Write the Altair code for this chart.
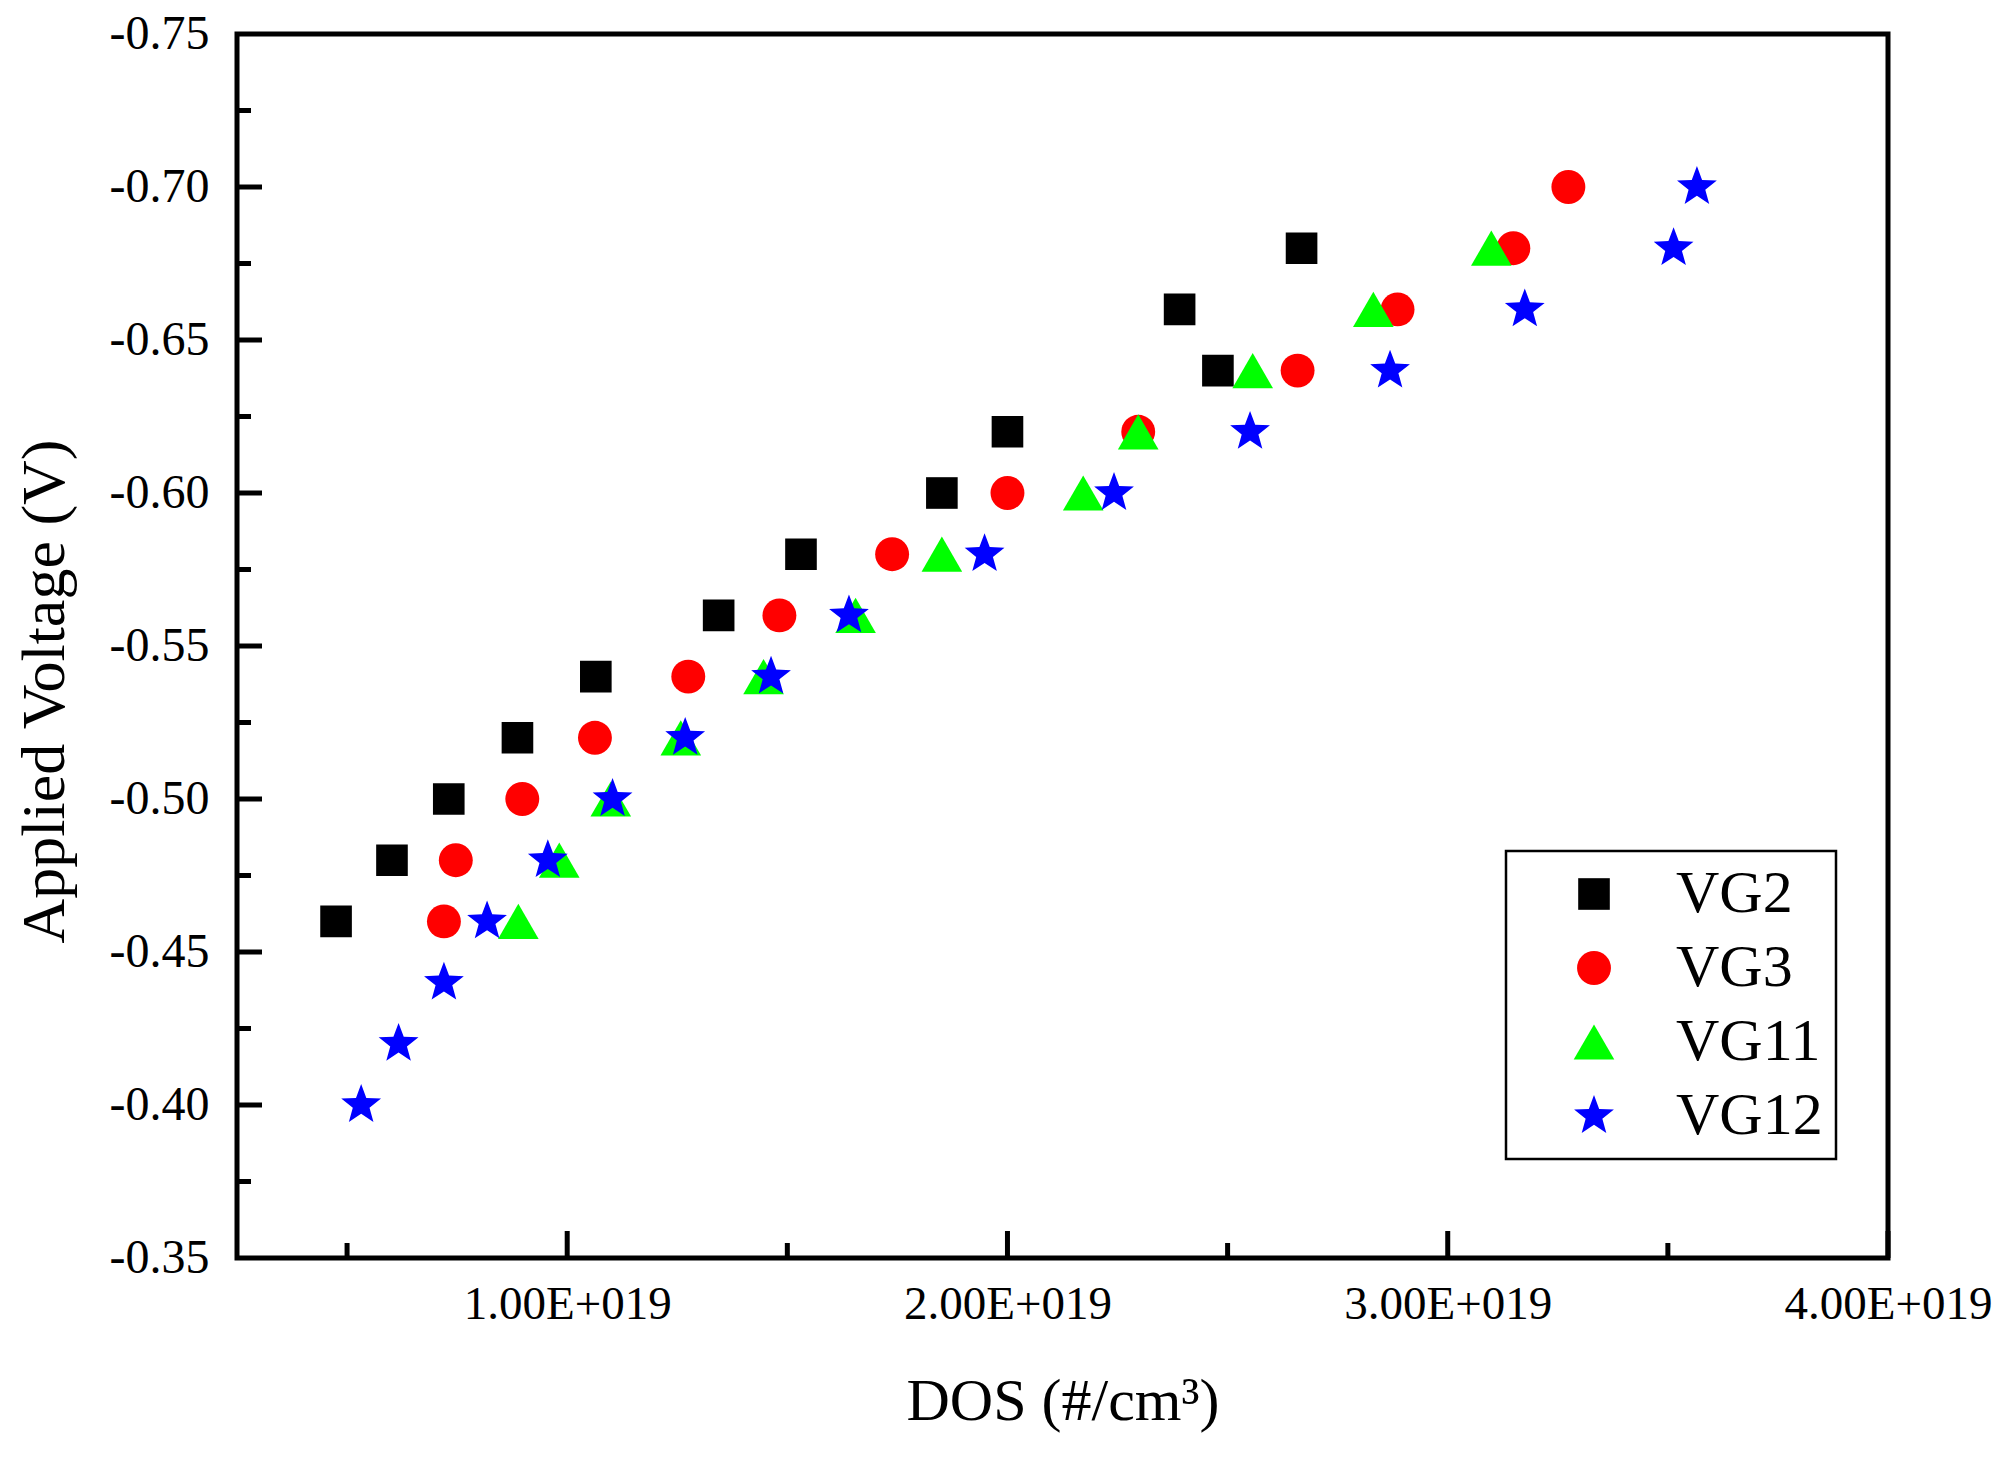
import altair as alt
import pandas as pd

# ---------------- data (DOS in units of 1E+019 #/cm^3, voltage in V) ----------------
series_names = ["VG2", "VG3", "VG11", "VG12"]

vg2_dos = [0.475, 0.602, 0.731, 0.887, 1.065, 1.344, 1.531, 1.851, 2.000, 2.478, 2.391, 2.668]
vg2_v = [-0.46, -0.48, -0.50, -0.52, -0.54, -0.56, -0.58, -0.60, -0.62, -0.64, -0.66, -0.68]

vg3_dos = [0.720, 0.747, 0.898, 1.063, 1.275, 1.482, 1.738, 2.000, 2.297, 2.659, 2.886, 3.149, 3.274]
vg3_v = [-0.46, -0.48, -0.50, -0.52, -0.54, -0.56, -0.58, -0.60, -0.62, -0.64, -0.66, -0.68, -0.70]

vg11_dos = [0.889, 0.982, 1.099, 1.258, 1.446, 1.655, 1.851, 2.172, 2.297, 2.557, 2.831, 3.099]
vg11_v = [-0.46, -0.48, -0.50, -0.52, -0.54, -0.56, -0.58, -0.60, -0.62, -0.64, -0.66, -0.68]

vg12_dos = [0.532, 0.617, 0.720, 0.818, 0.956, 1.103, 1.268, 1.463, 1.640, 1.948, 2.242, 2.551,
            2.869, 3.175, 3.513, 3.566]
vg12_v = [-0.40, -0.42, -0.44, -0.46, -0.48, -0.50, -0.52, -0.54, -0.56, -0.58, -0.60, -0.62,
          -0.64, -0.66, -0.68, -0.70]

x_major = [1.0, 2.0, 3.0, 4.0]
x_minor = [0.5, 1.5, 2.5, 3.5]
y_labels = [-0.75, -0.70, -0.65, -0.60, -0.55, -0.50, -0.45, -0.40, -0.35]
y_major = [-0.70, -0.65, -0.60, -0.55, -0.50, -0.45, -0.40]
y_minor = [-0.725, -0.675, -0.625, -0.575, -0.525, -0.475, -0.425, -0.375]

# ---------------- styling ----------------
FONT = "Liberation Serif"
W, H = 1651, 1224
colors = ["#000000", "#ff0000", "#00ff00", "#0000ff"]
star_path = ("M0,-1L0.2469,-0.3398L0.9511,-0.309L0.3995,0.1298L0.5878,0.809L0,0.42"
             "L-0.5878,0.809L-0.3995,0.1298L-0.9511,-0.309L-0.2469,-0.3398Z")
shapes = ["square", "circle", "triangle-up", star_path]
sizes = [1000, 1150, 1650, 1750]

rows = []
for name, xs, ys in zip(series_names,
                        [vg2_dos, vg3_dos, vg11_dos, vg12_dos],
                        [vg2_v, vg3_v, vg11_v, vg12_v]):
    for xv, yv in zip(xs, ys):
        rows.append({"series": name, "dos": xv, "v": yv})
df = pd.DataFrame(rows)

xscale = alt.Scale(domain=[0.25, 4.0], nice=False, zero=False)
yscale = alt.Scale(domain=[-0.75, -0.35], nice=False, zero=False, reverse=True)

xaxis = alt.Axis(values=x_major,
                 labelExpr="format(datum.value, '.2f') + 'E+019'",
                 ticks=False, domain=False, grid=False,
                 labelFont=FONT, labelFontSize=47, labelColor="black", labelLimit=600,
                 labelPadding=23, labelFlush=False, labelOverlap=False,
                 title="DOS (#/cm³)", titleFont=FONT, titleFontSize=60,
                 titleFontWeight="normal", titleColor="black", titlePadding=45)
yaxis = alt.Axis(values=y_labels,
                 labelExpr="'-' + format(abs(datum.value), '.2f')",
                 ticks=False, domain=False, grid=False,
                 labelFont=FONT, labelFontSize=48, labelColor="black", labelLimit=600,
                 labelPadding=28, labelFlush=False, labelOverlap=False,
                 title="Applied Voltage (V)", titleFont=FONT, titleFontSize=62,
                 titleFontWeight="normal", titleColor="black", titlePadding=33,
                 titleY=657)

legend = alt.Legend(orient="none", legendX=1269, legendY=817, title=None,
                    labelFont=FONT, labelFontSize=60, labelColor="black",
                    padding=13, rowPadding=14, symbolOffset=45, labelOffset=52,
                    strokeColor="black", fillColor="white",
                    symbolStrokeWidth=0, symbolOpacity=1)

points = alt.Chart(df).mark_point(filled=True, opacity=1, strokeWidth=0).encode(
    x=alt.X("dos:Q", scale=xscale, axis=xaxis),
    y=alt.Y("v:Q", scale=yscale, axis=yaxis),
    color=alt.Color("series:N", scale=alt.Scale(domain=series_names, range=colors), legend=legend),
    shape=alt.Shape("series:N", scale=alt.Scale(domain=series_names, range=shapes), legend=legend),
    size=alt.Size("series:N", scale=alt.Scale(type="ordinal", domain=series_names, range=sizes),
                  legend=legend),
)

xt_major = alt.Chart(pd.DataFrame({"dos": x_major})).mark_rule(color="black", strokeWidth=5).encode(
    x=alt.X("dos:Q", scale=xscale, axis=xaxis), y=alt.value(H), y2=alt.value(H - 27))
xt_minor = alt.Chart(pd.DataFrame({"dos": x_minor})).mark_rule(color="black", strokeWidth=5).encode(
    x=alt.X("dos:Q", scale=xscale, axis=xaxis), y=alt.value(H), y2=alt.value(H - 15))
yt_major = alt.Chart(pd.DataFrame({"v": y_major})).mark_rule(color="black", strokeWidth=5).encode(
    y=alt.Y("v:Q", scale=yscale, axis=yaxis), x=alt.value(0), x2=alt.value(25))
yt_minor = alt.Chart(pd.DataFrame({"v": y_minor})).mark_rule(color="black", strokeWidth=5).encode(
    y=alt.Y("v:Q", scale=yscale, axis=yaxis), x=alt.value(0), x2=alt.value(14))

chart = alt.layer(xt_major, xt_minor, yt_major, yt_minor, points).properties(
    width=W, height=H,
    autosize=alt.AutoSizeParams(type="none"),
    padding={"left": 229, "top": 26, "right": 110, "bottom": 200},
    background="white",
).configure_view(stroke="black", strokeWidth=5).configure_legend(strokeWidth=2.5)

chart.save("out.html", embed_options={"renderer": "svg", "actions": False})
